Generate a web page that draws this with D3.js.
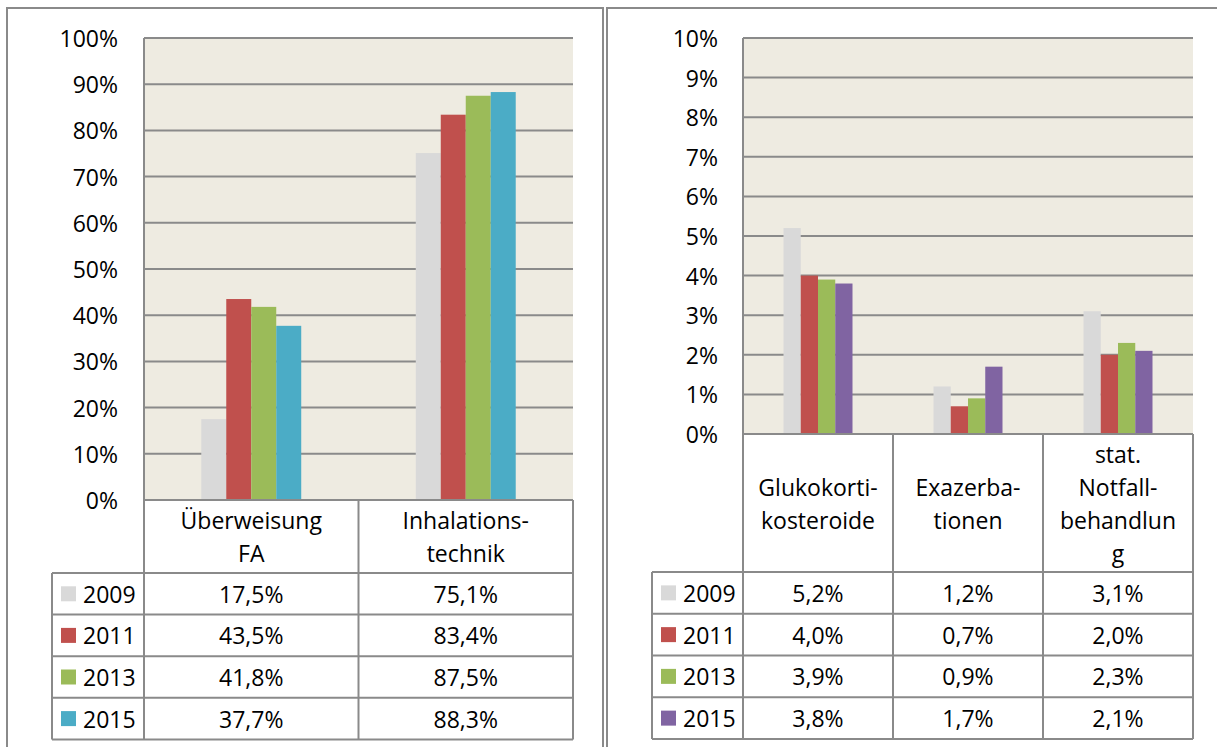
<!DOCTYPE html>
<html>
<head>
<meta charset="utf-8">
<script src="https://cdn.jsdelivr.net/npm/d3@7"></script>
<style>
  body { margin: 0; background: #fff; }
  svg { display: block; font-family: "Open Sans", sans-serif; }
  text { fill: #000; }
</style>
</head>
<body>
<svg id="chart" width="1217" height="747"></svg>
<script>
// data
const years = ['2009', '2011', '2013', '2015'];

const leftCats = [['Überweisung', 'FA'], ['Inhalations-', 'technik']];
const leftValues = [
  [17.5, 75.1],
  [43.5, 83.4],
  [41.8, 87.5],
  [37.7, 88.3]
];
const leftTicks = [0, 10, 20, 30, 40, 50, 60, 70, 80, 90, 100];

const rightCats = [['Glukokorti-', 'kosteroide'], ['Exazerba-', 'tionen'], ['stat.', 'Notfall-', 'behandlun', 'g']];
const rightValues = [
  [5.2, 1.2, 3.1],
  [4.0, 0.7, 2.0],
  [3.9, 0.9, 2.3],
  [3.8, 1.7, 2.1]
];
const rightTicks = [0, 1, 2, 3, 4, 5, 6, 7, 8, 9, 10];

const leftColors = ['#d9d9d9', '#c0504d', '#9bbb59', '#4bacc6'];
const rightColors = ['#d9d9d9', '#c0504d', '#9bbb59', '#8064a2'];

const gridColor = '#8a8a8a';
const plotBg = '#eeebe1';
const fontSize = 23;

const svg = d3.select('#chart');

// outer frames
const frame = svg.append('g').attr('fill', 'none').attr('stroke', gridColor).attr('stroke-width', 2);
frame.append('path').attr('d', 'M7,760 V8 H603 V760');
frame.append('path').attr('d', 'M607,760 V8 H1230');

const fmt = v => v.toFixed(1).replace('.', ',') + '%';

function drawPanel(cfg) {
  const g = svg.append('g');
  const y = d3.scaleLinear().domain([0, cfg.max]).range([cfg.zeroY, cfg.top]);
  const x = d3.scaleBand().domain(d3.range(cfg.cats.length)).range([cfg.left, cfg.right]);
  const groupW = x.bandwidth() * cfg.groupFrac;

  // plot background
  g.append('rect')
    .attr('x', cfg.left).attr('y', cfg.top)
    .attr('width', cfg.right - cfg.left).attr('height', cfg.zeroY - cfg.top)
    .attr('fill', plotBg);

  // grid
  g.selectAll('.grid').data(cfg.ticks).enter().append('line')
    .attr('x1', cfg.left).attr('x2', cfg.right)
    .attr('y1', d => y(d)).attr('y2', d => y(d))
    .attr('stroke', gridColor).attr('stroke-width', 2);

  // y labels
  g.selectAll('.ylab').data(cfg.ticks).enter().append('text')
    .attr('x', cfg.labelX).attr('y', d => y(d))
    .attr('text-anchor', 'end').attr('dominant-baseline', 'central')
    .attr('font-size', fontSize)
    .text(d => d + '%');

  // bars
  cfg.values.forEach((row, si) => {
    row.forEach((v, ci) => {
      const inner = d3.scaleBand().domain(d3.range(cfg.values.length))
        .range([x(ci) + (x.bandwidth() - groupW) / 2, x(ci) + (x.bandwidth() + groupW) / 2]);
      g.append('rect')
        .attr('x', inner(si)).attr('width', inner.bandwidth())
        .attr('y', y(v)).attr('height', y(0) - y(v))
        .attr('fill', cfg.colors[si]);
    });
  });

  // table
  const t = g.append('g').attr('stroke', gridColor).attr('stroke-width', 2).attr('fill', 'none');
  const rowY = d3.range(cfg.values.length + 1).map(i => cfg.headerBottom + i * cfg.rowH);
  const bottom = rowY[rowY.length - 1];
  // plot area left edge + table left divider
  t.append('line').attr('x1', cfg.left).attr('x2', cfg.left).attr('y1', cfg.top).attr('y2', bottom);
  t.append('line').attr('x1', cfg.left).attr('x2', cfg.right).attr('y1', cfg.zeroY).attr('y2', cfg.zeroY);
  cfg.cats.forEach((c, ci) => {
    const xr = x(ci) + x.bandwidth();
    t.append('line').attr('x1', xr).attr('x2', xr).attr('y1', cfg.zeroY).attr('y2', bottom);
  });
  rowY.forEach(ry => {
    t.append('line').attr('x1', cfg.legendLeft).attr('x2', cfg.right).attr('y1', ry).attr('y2', ry);
  });
  t.append('line').attr('x1', cfg.legendLeft).attr('x2', cfg.legendLeft).attr('y1', cfg.headerBottom).attr('y2', bottom);

  // header texts
  const lineH = 33;
  cfg.cats.forEach((lines, ci) => {
    const cx = x(ci) + x.bandwidth() / 2;
    const cy = (cfg.zeroY + cfg.headerBottom) / 2;
    const start = cy - (lines.length - 1) * lineH / 2;
    g.append('text')
      .attr('text-anchor', 'middle').attr('font-size', fontSize)
      .selectAll('tspan').data(lines).enter().append('tspan')
      .attr('x', cx).attr('y', (d, i) => start + i * lineH)
      .attr('dominant-baseline', 'central')
      .text(d => d);
  });

  // rows
  cfg.values.forEach((row, si) => {
    const cy = rowY[si] + cfg.rowH / 2;
    g.append('rect')
      .attr('x', cfg.legendLeft + 9).attr('y', cy - 7.5)
      .attr('width', 15).attr('height', 15)
      .attr('fill', cfg.colors[si]);
    g.append('text')
      .attr('x', cfg.legendLeft + 31).attr('y', cy)
      .attr('dominant-baseline', 'central').attr('font-size', fontSize)
      .text(years[si]);
    row.forEach((v, ci) => {
      g.append('text')
        .attr('x', x(ci) + x.bandwidth() / 2).attr('y', cy)
        .attr('text-anchor', 'middle').attr('dominant-baseline', 'central')
        .attr('font-size', fontSize)
        .text(fmt(v));
    });
  });
}

drawPanel({
  cats: leftCats, values: leftValues, ticks: leftTicks, colors: leftColors, max: 100,
  left: 144, right: 573, top: 38, zeroY: 500, headerBottom: 573, rowH: 41.6,
  legendLeft: 52, labelX: 118, groupFrac: 0.466
});

drawPanel({
  cats: rightCats, values: rightValues, ticks: rightTicks, colors: rightColors, max: 10,
  left: 743, right: 1193, top: 38, zeroY: 434, headerBottom: 572, rowH: 41.75,
  legendLeft: 652, labelX: 718, groupFrac: 0.46
});
</script>
</body>
</html>
